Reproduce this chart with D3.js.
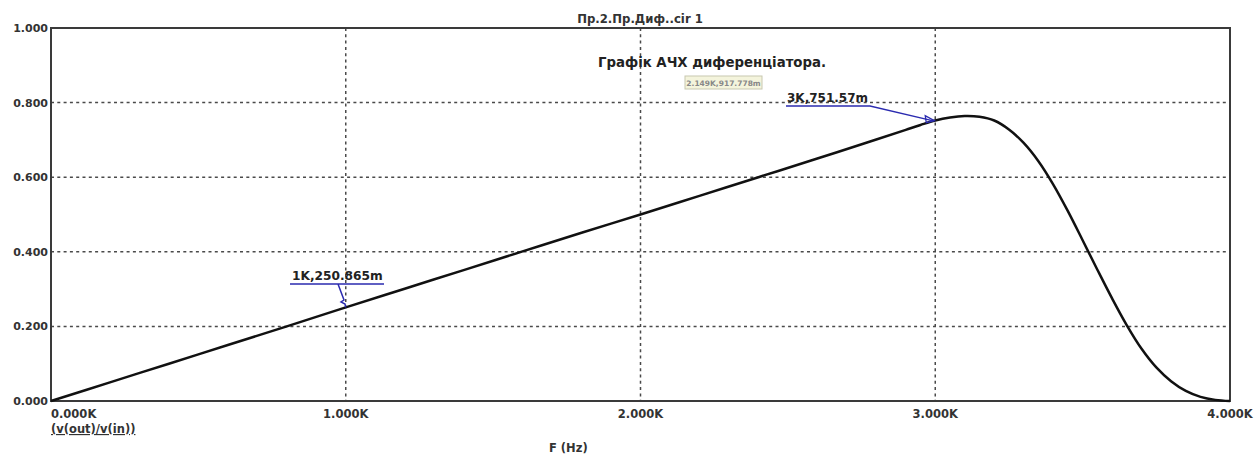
<!DOCTYPE html>
<html><head><meta charset="utf-8">
<script src="https://cdn.jsdelivr.net/npm/d3@7"></script>
<style>body{margin:0;background:#fff}text{font-family:"DejaVu Sans",sans-serif;font-weight:bold}</style>
</head><body><svg id="c" width="1260" height="457"></svg>
<script>
const freqK = [0,0.2,0.4,0.6,0.8,1.0,1.2,1.4,1.6,1.8,2.0,2.2,2.4,2.6,2.8,2.9,2.95,3.0,3.05,3.1,3.15,3.2,3.25,3.3,3.35,3.4,3.45,3.5,3.55,3.6,3.65,3.7,3.75,3.8,3.85,3.9,3.95,4.0];
const gain  = [0,0.05,0.10,0.15,0.20,0.251,0.301,0.351,0.401,0.451,0.500,0.550,0.600,0.650,0.701,0.727,0.740,0.752,0.760,0.764,0.762,0.752,0.728,0.692,0.643,0.581,0.509,0.431,0.352,0.275,0.203,0.140,0.090,0.053,0.027,0.011,0.003,0];
const xTicks = [0,1,2,3,4];
const xTickLabels = ["0.000K","1.000K","2.000K","3.000K","4.000K"];
const yTicks = [0,0.2,0.4,0.6,0.8,1.0];
const yTickLabels = ["0.000","0.200","0.400","0.600","0.800","1.000"];
const markers = [{f:1.0,v:0.250865,label:"1K,250.865m"},{f:3.0,v:0.75157,label:"3K,751.57m"}];

const svg = d3.select("#c");
const L=51,R=1230,T=28,B=401;
const x = d3.scaleLinear().domain([0,4]).range([L,R]);
const y = d3.scaleLinear().domain([0,1]).range([B,T]);

// grid
const g = svg.append("g");
g.selectAll(".vg").data(xTicks.slice(1,-1)).enter().append("line")
 .attr("x1",d=>x(d)).attr("x2",d=>x(d)).attr("y1",T).attr("y2",B)
 .attr("stroke","#4a4a4a").attr("stroke-width",1.5).attr("stroke-dasharray","3,3.3");
g.selectAll(".hg").data(yTicks.slice(1,-1)).enter().append("line")
 .attr("y1",d=>y(d)).attr("y2",d=>y(d)).attr("x1",L).attr("x2",R)
 .attr("stroke","#4a4a4a").attr("stroke-width",1.5).attr("stroke-dasharray","3,3.3");

// frame
svg.append("rect").attr("x",L).attr("y",T).attr("width",R-L).attr("height",B-T)
 .attr("fill","none").attr("stroke","#3a3a3a").attr("stroke-width",2);

// axes labels
svg.selectAll(".yl").data(yTicks).enter().append("text")
 .attr("x",L-3).attr("y",d=>y(d)+4).attr("text-anchor","end")
 .attr("font-size",11).attr("fill","#333").text((d,i)=>yTickLabels[i]);
svg.selectAll(".xl").data(xTicks).enter().append("text")
 .attr("x",d=> d===0 ? L : x(d)).attr("y",418)
 .attr("text-anchor",d=> d===0 ? "start":"middle")
 .attr("font-size",11.5).attr("fill","#333").text((d,i)=>xTickLabels[i]);

svg.append("text").attr("x",L).attr("y",433).attr("font-size",11.5).attr("fill","#333")
 .attr("text-decoration","underline").text("(v(out)/v(in))");
svg.append("text").attr("x",549).attr("y",452)
 .attr("font-size",11.5).attr("fill","#333").text("F (Hz)");
svg.append("text").attr("x",640).attr("y",23).attr("text-anchor","middle")
 .attr("font-size",11.7).attr("fill","#333").text("Пр.2.Пр.Диф..cir 1");
svg.append("text").attr("x",712).attr("y",67).attr("text-anchor","middle")
 .attr("font-size",13.3).attr("fill","#222").text("Графік АЧХ диференціатора.");

// tooltip box
svg.append("rect").attr("x",685).attr("y",76).attr("width",77).attr("height",13)
 .attr("fill","#f4f4dc").attr("stroke","#c8c8b0").attr("stroke-width",1);
svg.append("text").attr("x",723.5).attr("y",86).attr("text-anchor","middle")
 .attr("font-size",7.5).attr("font-weight","normal").attr("fill","#888").text("2.149K,917.778m");

// curve
svg.append("path").datum(freqK.map((f,i)=>[f,gain[i]]))
 .attr("d",d3.line().x(d=>x(d[0])).y(d=>y(d[1])).curve(d3.curveCatmullRom.alpha(0.5)))
 .attr("fill","none").attr("stroke","#111").attr("stroke-width",2.5);

// markers
const blue="#2b2bb0";
const m3=markers[1];
svg.append("text").attr("x",787).attr("y",102).attr("font-size",12).attr("fill","#222").text(m3.label);
svg.append("path").attr("d",`M786,106 H870 L${x(m3.f)-3},${y(m3.v)}`)
 .attr("fill","none").attr("stroke",blue).attr("stroke-width",1.3);
svg.append("path").attr("d",`M${x(m3.f)-1},${y(m3.v)} l-9,-5 l1,7 z`)
 .attr("fill","none").attr("stroke",blue).attr("stroke-width",1.3);
const m1=markers[0];
svg.append("text").attr("x",292).attr("y",280).attr("font-size",12.2).attr("fill","#222").text(m1.label);
svg.append("path").attr("d",`M290,284 H384 M338,284 L344,300 l-3,2 l4,2 L${x(m1.f)},${y(m1.v)}`)
 .attr("fill","none").attr("stroke",blue).attr("stroke-width",1.5);
</script></body></html>
